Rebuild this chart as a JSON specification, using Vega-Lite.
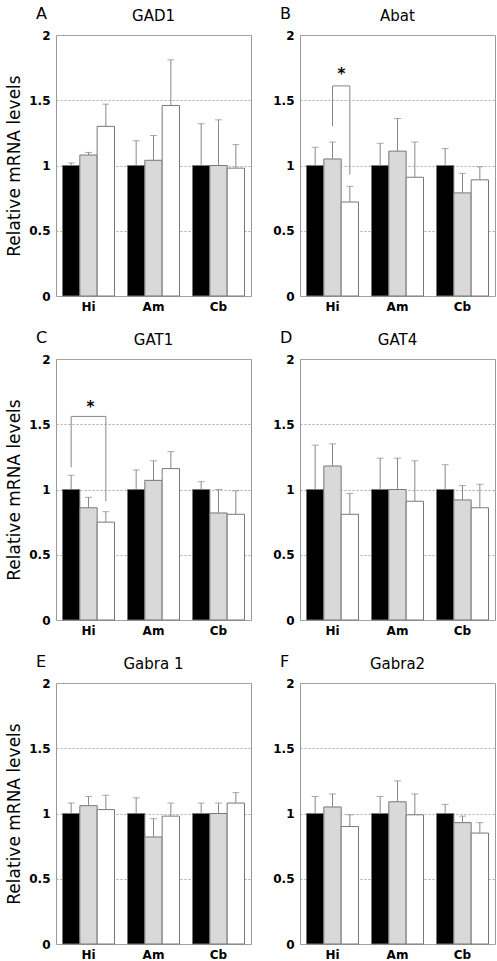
{
  "$schema": "https://vega.github.io/schema/vega-lite/v6.json",
  "padding": {"left": 5, "top": 5, "right": 2, "bottom": 5},
  "datasets": {
    "bars": [
      {"gene": "GAD1", "region": "Hi", "series": "s1", "value": 1.0, "upper": 1.02},
      {"gene": "GAD1", "region": "Hi", "series": "s2", "value": 1.08, "upper": 1.10},
      {"gene": "GAD1", "region": "Hi", "series": "s3", "value": 1.30, "upper": 1.47},
      {"gene": "GAD1", "region": "Am", "series": "s1", "value": 1.0, "upper": 1.19},
      {"gene": "GAD1", "region": "Am", "series": "s2", "value": 1.04, "upper": 1.23},
      {"gene": "GAD1", "region": "Am", "series": "s3", "value": 1.46, "upper": 1.81},
      {"gene": "GAD1", "region": "Cb", "series": "s1", "value": 1.0, "upper": 1.32},
      {"gene": "GAD1", "region": "Cb", "series": "s2", "value": 1.0, "upper": 1.35},
      {"gene": "GAD1", "region": "Cb", "series": "s3", "value": 0.98, "upper": 1.16},
      {"gene": "Abat", "region": "Hi", "series": "s1", "value": 1.0, "upper": 1.14},
      {"gene": "Abat", "region": "Hi", "series": "s2", "value": 1.05, "upper": 1.18},
      {"gene": "Abat", "region": "Hi", "series": "s3", "value": 0.72, "upper": 0.84},
      {"gene": "Abat", "region": "Am", "series": "s1", "value": 1.0, "upper": 1.17},
      {"gene": "Abat", "region": "Am", "series": "s2", "value": 1.11, "upper": 1.36},
      {"gene": "Abat", "region": "Am", "series": "s3", "value": 0.91, "upper": 1.18},
      {"gene": "Abat", "region": "Cb", "series": "s1", "value": 1.0, "upper": 1.13},
      {"gene": "Abat", "region": "Cb", "series": "s2", "value": 0.79, "upper": 0.94},
      {"gene": "Abat", "region": "Cb", "series": "s3", "value": 0.89, "upper": 0.99},
      {"gene": "GAT1", "region": "Hi", "series": "s1", "value": 1.0, "upper": 1.11},
      {"gene": "GAT1", "region": "Hi", "series": "s2", "value": 0.86, "upper": 0.94},
      {"gene": "GAT1", "region": "Hi", "series": "s3", "value": 0.75, "upper": 0.83},
      {"gene": "GAT1", "region": "Am", "series": "s1", "value": 1.0, "upper": 1.15},
      {"gene": "GAT1", "region": "Am", "series": "s2", "value": 1.07, "upper": 1.22},
      {"gene": "GAT1", "region": "Am", "series": "s3", "value": 1.16, "upper": 1.29},
      {"gene": "GAT1", "region": "Cb", "series": "s1", "value": 1.0, "upper": 1.06},
      {"gene": "GAT1", "region": "Cb", "series": "s2", "value": 0.82, "upper": 1.0},
      {"gene": "GAT1", "region": "Cb", "series": "s3", "value": 0.81, "upper": 0.99},
      {"gene": "GAT4", "region": "Hi", "series": "s1", "value": 1.0, "upper": 1.34},
      {"gene": "GAT4", "region": "Hi", "series": "s2", "value": 1.18, "upper": 1.35},
      {"gene": "GAT4", "region": "Hi", "series": "s3", "value": 0.81, "upper": 0.97},
      {"gene": "GAT4", "region": "Am", "series": "s1", "value": 1.0, "upper": 1.24},
      {"gene": "GAT4", "region": "Am", "series": "s2", "value": 1.0, "upper": 1.24},
      {"gene": "GAT4", "region": "Am", "series": "s3", "value": 0.91, "upper": 1.22},
      {"gene": "GAT4", "region": "Cb", "series": "s1", "value": 1.0, "upper": 1.19},
      {"gene": "GAT4", "region": "Cb", "series": "s2", "value": 0.92, "upper": 1.03},
      {"gene": "GAT4", "region": "Cb", "series": "s3", "value": 0.86, "upper": 1.04},
      {"gene": "Gabra 1", "region": "Hi", "series": "s1", "value": 1.0, "upper": 1.08},
      {"gene": "Gabra 1", "region": "Hi", "series": "s2", "value": 1.06, "upper": 1.13},
      {"gene": "Gabra 1", "region": "Hi", "series": "s3", "value": 1.03, "upper": 1.14},
      {"gene": "Gabra 1", "region": "Am", "series": "s1", "value": 1.0, "upper": 1.12},
      {"gene": "Gabra 1", "region": "Am", "series": "s2", "value": 0.82, "upper": 0.96},
      {"gene": "Gabra 1", "region": "Am", "series": "s3", "value": 0.98, "upper": 1.08},
      {"gene": "Gabra 1", "region": "Cb", "series": "s1", "value": 1.0, "upper": 1.08},
      {"gene": "Gabra 1", "region": "Cb", "series": "s2", "value": 1.0, "upper": 1.08},
      {"gene": "Gabra 1", "region": "Cb", "series": "s3", "value": 1.08, "upper": 1.16},
      {"gene": "Gabra2", "region": "Hi", "series": "s1", "value": 1.0, "upper": 1.13},
      {"gene": "Gabra2", "region": "Hi", "series": "s2", "value": 1.05, "upper": 1.15},
      {"gene": "Gabra2", "region": "Hi", "series": "s3", "value": 0.90, "upper": 0.99},
      {"gene": "Gabra2", "region": "Am", "series": "s1", "value": 1.0, "upper": 1.13},
      {"gene": "Gabra2", "region": "Am", "series": "s2", "value": 1.09, "upper": 1.25},
      {"gene": "Gabra2", "region": "Am", "series": "s3", "value": 0.99, "upper": 1.15},
      {"gene": "Gabra2", "region": "Cb", "series": "s1", "value": 1.0, "upper": 1.07},
      {"gene": "Gabra2", "region": "Cb", "series": "s2", "value": 0.93, "upper": 0.98},
      {"gene": "Gabra2", "region": "Cb", "series": "s3", "value": 0.85, "upper": 0.93}
    ],
    "brackets": [
      {"gene": "Abat", "region": "Hi", "series": "s2", "y": 1.30, "step": 1},
      {"gene": "Abat", "region": "Hi", "series": "s2", "y": 1.61, "step": 2},
      {"gene": "Abat", "region": "Hi", "series": "s3", "y": 1.61, "step": 3},
      {"gene": "Abat", "region": "Hi", "series": "s3", "y": 0.93, "step": 4},
      {"gene": "GAT1", "region": "Hi", "series": "s1", "y": 1.17, "step": 1},
      {"gene": "GAT1", "region": "Hi", "series": "s1", "y": 1.56, "step": 2},
      {"gene": "GAT1", "region": "Hi", "series": "s3", "y": 1.56, "step": 3},
      {"gene": "GAT1", "region": "Hi", "series": "s3", "y": 0.91, "step": 4}
    ],
    "stars": [
      {"gene": "Abat", "region": "Hi", "series": "s2", "y": 1.70, "label": "*"},
      {"gene": "GAT1", "region": "Hi", "series": "s2", "y": 1.63, "label": "*"}
    ]
  },
  "vconcat": [
    {"hconcat": [
      {
        "width": 195, "height": 261,
        "title": {"text": "A"},
        "encoding": {
          "x": {"field": "region", "type": "nominal", "sort": ["Hi", "Am", "Cb"], "scale": {"paddingInner": 0.2, "paddingOuter": 0.1}, "axis": {"title": null}},
          "xOffset": {"field": "series", "type": "nominal", "sort": ["s1", "s2", "s3"], "scale": {"paddingInner": 0, "paddingOuter": 0}}
        },
        "layer": [
          {"data": {"name": "bars"}, "transform": [{"filter": "datum.gene === 'GAD1'"}],
           "mark": {"type": "bar", "stroke": "#777", "strokeWidth": 1},
           "encoding": {"y": {"field": "value", "type": "quantitative", "scale": {"domain": [0, 2], "nice": false}, "axis": {"title": "Relative mRNA levels", "values": [0, 0.5, 1, 1.5, 2], "format": "~g"}},
             "fill": {"field": "series", "type": "nominal", "scale": {"domain": ["s1", "s2", "s3"], "range": ["#000000", "#d9d9d9", "#ffffff"]}, "legend": null}}},
          {"data": {"name": "bars"}, "transform": [{"filter": "datum.gene === 'GAD1'"}],
           "mark": {"type": "rule", "color": "#888", "strokeWidth": 1},
           "encoding": {"y": {"field": "value", "type": "quantitative"}, "y2": {"field": "upper"}}},
          {"data": {"name": "bars"}, "transform": [{"filter": "datum.gene === 'GAD1'"}],
           "mark": {"type": "tick", "color": "#888", "size": 7, "thickness": 1},
           "encoding": {"y": {"field": "upper", "type": "quantitative"}}},
          {"data": {"name": "bars"}, "transform": [{"filter": "datum.gene === 'GAD1' && datum.region === 'Am' && datum.series === 's2'"}],
           "mark": {"type": "text", "font": "DejaVu Sans", "fontSize": 15, "baseline": "alphabetic", "dy": -14, "color": "#000"},
           "encoding": {"y": {"datum": 2}, "text": {"field": "gene"}}}
        ]
      },
      {
        "width": 195, "height": 261,
        "title": {"text": "B"},
        "encoding": {
          "x": {"field": "region", "type": "nominal", "sort": ["Hi", "Am", "Cb"], "scale": {"paddingInner": 0.2, "paddingOuter": 0.1}, "axis": {"title": null}},
          "xOffset": {"field": "series", "type": "nominal", "sort": ["s1", "s2", "s3"], "scale": {"paddingInner": 0, "paddingOuter": 0}}
        },
        "layer": [
          {"data": {"name": "bars"}, "transform": [{"filter": "datum.gene === 'Abat'"}],
           "mark": {"type": "bar", "stroke": "#777", "strokeWidth": 1},
           "encoding": {"y": {"field": "value", "type": "quantitative", "scale": {"domain": [0, 2], "nice": false}, "axis": {"title": null, "values": [0, 0.5, 1, 1.5, 2], "format": "~g"}},
             "fill": {"field": "series", "type": "nominal", "scale": {"domain": ["s1", "s2", "s3"], "range": ["#000000", "#d9d9d9", "#ffffff"]}, "legend": null}}},
          {"data": {"name": "bars"}, "transform": [{"filter": "datum.gene === 'Abat'"}],
           "mark": {"type": "rule", "color": "#888", "strokeWidth": 1},
           "encoding": {"y": {"field": "value", "type": "quantitative"}, "y2": {"field": "upper"}}},
          {"data": {"name": "bars"}, "transform": [{"filter": "datum.gene === 'Abat'"}],
           "mark": {"type": "tick", "color": "#888", "size": 7, "thickness": 1},
           "encoding": {"y": {"field": "upper", "type": "quantitative"}}},
          {"data": {"name": "brackets"}, "transform": [{"filter": "datum.gene === 'Abat'"}],
           "mark": {"type": "line", "color": "#888", "strokeWidth": 1},
           "encoding": {"y": {"field": "y", "type": "quantitative"}, "order": {"field": "step", "type": "quantitative"}}},
          {"data": {"name": "stars"}, "transform": [{"filter": "datum.gene === 'Abat'"}],
           "mark": {"type": "text", "font": "DejaVu Sans", "fontSize": 15, "fontWeight": "bold", "baseline": "middle", "dx": 9, "color": "#000"},
           "encoding": {"y": {"field": "y", "type": "quantitative"}, "text": {"field": "label"}}},
          {"data": {"name": "bars"}, "transform": [{"filter": "datum.gene === 'Abat' && datum.region === 'Am' && datum.series === 's2'"}],
           "mark": {"type": "text", "font": "DejaVu Sans", "fontSize": 15, "baseline": "alphabetic", "dy": -14, "color": "#000"},
           "encoding": {"y": {"datum": 2}, "text": {"field": "gene"}}}
        ]
      }
    ]},
    {"hconcat": [
      {
        "width": 195, "height": 261,
        "title": {"text": "C"},
        "encoding": {
          "x": {"field": "region", "type": "nominal", "sort": ["Hi", "Am", "Cb"], "scale": {"paddingInner": 0.2, "paddingOuter": 0.1}, "axis": {"title": null}},
          "xOffset": {"field": "series", "type": "nominal", "sort": ["s1", "s2", "s3"], "scale": {"paddingInner": 0, "paddingOuter": 0}}
        },
        "layer": [
          {"data": {"name": "bars"}, "transform": [{"filter": "datum.gene === 'GAT1'"}],
           "mark": {"type": "bar", "stroke": "#777", "strokeWidth": 1},
           "encoding": {"y": {"field": "value", "type": "quantitative", "scale": {"domain": [0, 2], "nice": false}, "axis": {"title": "Relative mRNA levels", "values": [0, 0.5, 1, 1.5, 2], "format": "~g"}},
             "fill": {"field": "series", "type": "nominal", "scale": {"domain": ["s1", "s2", "s3"], "range": ["#000000", "#d9d9d9", "#ffffff"]}, "legend": null}}},
          {"data": {"name": "bars"}, "transform": [{"filter": "datum.gene === 'GAT1'"}],
           "mark": {"type": "rule", "color": "#888", "strokeWidth": 1},
           "encoding": {"y": {"field": "value", "type": "quantitative"}, "y2": {"field": "upper"}}},
          {"data": {"name": "bars"}, "transform": [{"filter": "datum.gene === 'GAT1'"}],
           "mark": {"type": "tick", "color": "#888", "size": 7, "thickness": 1},
           "encoding": {"y": {"field": "upper", "type": "quantitative"}}},
          {"data": {"name": "brackets"}, "transform": [{"filter": "datum.gene === 'GAT1'"}],
           "mark": {"type": "line", "color": "#888", "strokeWidth": 1},
           "encoding": {"y": {"field": "y", "type": "quantitative"}, "order": {"field": "step", "type": "quantitative"}}},
          {"data": {"name": "stars"}, "transform": [{"filter": "datum.gene === 'GAT1'"}],
           "mark": {"type": "text", "font": "DejaVu Sans", "fontSize": 15, "fontWeight": "bold", "baseline": "middle", "dx": 2, "color": "#000"},
           "encoding": {"y": {"field": "y", "type": "quantitative"}, "text": {"field": "label"}}},
          {"data": {"name": "bars"}, "transform": [{"filter": "datum.gene === 'GAT1' && datum.region === 'Am' && datum.series === 's2'"}],
           "mark": {"type": "text", "font": "DejaVu Sans", "fontSize": 15, "baseline": "alphabetic", "dy": -14, "color": "#000"},
           "encoding": {"y": {"datum": 2}, "text": {"field": "gene"}}}
        ]
      },
      {
        "width": 195, "height": 261,
        "title": {"text": "D"},
        "encoding": {
          "x": {"field": "region", "type": "nominal", "sort": ["Hi", "Am", "Cb"], "scale": {"paddingInner": 0.2, "paddingOuter": 0.1}, "axis": {"title": null}},
          "xOffset": {"field": "series", "type": "nominal", "sort": ["s1", "s2", "s3"], "scale": {"paddingInner": 0, "paddingOuter": 0}}
        },
        "layer": [
          {"data": {"name": "bars"}, "transform": [{"filter": "datum.gene === 'GAT4'"}],
           "mark": {"type": "bar", "stroke": "#777", "strokeWidth": 1},
           "encoding": {"y": {"field": "value", "type": "quantitative", "scale": {"domain": [0, 2], "nice": false}, "axis": {"title": null, "values": [0, 0.5, 1, 1.5, 2], "format": "~g"}},
             "fill": {"field": "series", "type": "nominal", "scale": {"domain": ["s1", "s2", "s3"], "range": ["#000000", "#d9d9d9", "#ffffff"]}, "legend": null}}},
          {"data": {"name": "bars"}, "transform": [{"filter": "datum.gene === 'GAT4'"}],
           "mark": {"type": "rule", "color": "#888", "strokeWidth": 1},
           "encoding": {"y": {"field": "value", "type": "quantitative"}, "y2": {"field": "upper"}}},
          {"data": {"name": "bars"}, "transform": [{"filter": "datum.gene === 'GAT4'"}],
           "mark": {"type": "tick", "color": "#888", "size": 7, "thickness": 1},
           "encoding": {"y": {"field": "upper", "type": "quantitative"}}},
          {"data": {"name": "bars"}, "transform": [{"filter": "datum.gene === 'GAT4' && datum.region === 'Am' && datum.series === 's2'"}],
           "mark": {"type": "text", "font": "DejaVu Sans", "fontSize": 15, "baseline": "alphabetic", "dy": -14, "color": "#000"},
           "encoding": {"y": {"datum": 2}, "text": {"field": "gene"}}}
        ]
      }
    ]},
    {"hconcat": [
      {
        "width": 195, "height": 261,
        "title": {"text": "E"},
        "encoding": {
          "x": {"field": "region", "type": "nominal", "sort": ["Hi", "Am", "Cb"], "scale": {"paddingInner": 0.2, "paddingOuter": 0.1}, "axis": {"title": null}},
          "xOffset": {"field": "series", "type": "nominal", "sort": ["s1", "s2", "s3"], "scale": {"paddingInner": 0, "paddingOuter": 0}}
        },
        "layer": [
          {"data": {"name": "bars"}, "transform": [{"filter": "datum.gene === 'Gabra 1'"}],
           "mark": {"type": "bar", "stroke": "#777", "strokeWidth": 1},
           "encoding": {"y": {"field": "value", "type": "quantitative", "scale": {"domain": [0, 2], "nice": false}, "axis": {"title": "Relative mRNA levels", "values": [0, 0.5, 1, 1.5, 2], "format": "~g"}},
             "fill": {"field": "series", "type": "nominal", "scale": {"domain": ["s1", "s2", "s3"], "range": ["#000000", "#d9d9d9", "#ffffff"]}, "legend": null}}},
          {"data": {"name": "bars"}, "transform": [{"filter": "datum.gene === 'Gabra 1'"}],
           "mark": {"type": "rule", "color": "#888", "strokeWidth": 1},
           "encoding": {"y": {"field": "value", "type": "quantitative"}, "y2": {"field": "upper"}}},
          {"data": {"name": "bars"}, "transform": [{"filter": "datum.gene === 'Gabra 1'"}],
           "mark": {"type": "tick", "color": "#888", "size": 7, "thickness": 1},
           "encoding": {"y": {"field": "upper", "type": "quantitative"}}},
          {"data": {"name": "bars"}, "transform": [{"filter": "datum.gene === 'Gabra 1' && datum.region === 'Am' && datum.series === 's2'"}],
           "mark": {"type": "text", "font": "DejaVu Sans", "fontSize": 15, "baseline": "alphabetic", "dy": -14, "color": "#000"},
           "encoding": {"y": {"datum": 2}, "text": {"field": "gene"}}}
        ]
      },
      {
        "width": 195, "height": 261,
        "title": {"text": "F"},
        "encoding": {
          "x": {"field": "region", "type": "nominal", "sort": ["Hi", "Am", "Cb"], "scale": {"paddingInner": 0.2, "paddingOuter": 0.1}, "axis": {"title": null}},
          "xOffset": {"field": "series", "type": "nominal", "sort": ["s1", "s2", "s3"], "scale": {"paddingInner": 0, "paddingOuter": 0}}
        },
        "layer": [
          {"data": {"name": "bars"}, "transform": [{"filter": "datum.gene === 'Gabra2'"}],
           "mark": {"type": "bar", "stroke": "#777", "strokeWidth": 1},
           "encoding": {"y": {"field": "value", "type": "quantitative", "scale": {"domain": [0, 2], "nice": false}, "axis": {"title": null, "values": [0, 0.5, 1, 1.5, 2], "format": "~g"}},
             "fill": {"field": "series", "type": "nominal", "scale": {"domain": ["s1", "s2", "s3"], "range": ["#000000", "#d9d9d9", "#ffffff"]}, "legend": null}}},
          {"data": {"name": "bars"}, "transform": [{"filter": "datum.gene === 'Gabra2'"}],
           "mark": {"type": "rule", "color": "#888", "strokeWidth": 1},
           "encoding": {"y": {"field": "value", "type": "quantitative"}, "y2": {"field": "upper"}}},
          {"data": {"name": "bars"}, "transform": [{"filter": "datum.gene === 'Gabra2'"}],
           "mark": {"type": "tick", "color": "#888", "size": 7, "thickness": 1},
           "encoding": {"y": {"field": "upper", "type": "quantitative"}}},
          {"data": {"name": "bars"}, "transform": [{"filter": "datum.gene === 'Gabra2' && datum.region === 'Am' && datum.series === 's2'"}],
           "mark": {"type": "text", "font": "DejaVu Sans", "fontSize": 15, "baseline": "alphabetic", "dy": -14, "color": "#000"},
           "encoding": {"y": {"datum": 2}, "text": {"field": "gene"}}}
        ]
      }
    ]}
  ],
  "spacing": 16,
  "config": {
    "concat": {"spacing": 20},
    "view": {"stroke": "#999", "strokeWidth": 1},
    "axis": {
      "labelFont": "DejaVu Sans", "labelFontWeight": "bold", "labelFontSize": 12, "labelColor": "#000",
      "ticks": false, "domain": false,
      "titleFont": "DejaVu Sans", "titleFontSize": 17, "titleFontWeight": "normal", "titleColor": "#000"
    },
    "axisY": {"grid": true, "gridDash": [2, 2], "gridColor": "#aaa", "labelPadding": 6, "titlePadding": 5},
    "axisX": {"labelPadding": 5, "labelAngle": 0, "grid": false},
    "title": {"font": "DejaVu Sans", "fontSize": 16, "fontWeight": "normal", "anchor": "start", "frame": "group", "dx": -20, "offset": -13, "color": "#000"}
  }
}
